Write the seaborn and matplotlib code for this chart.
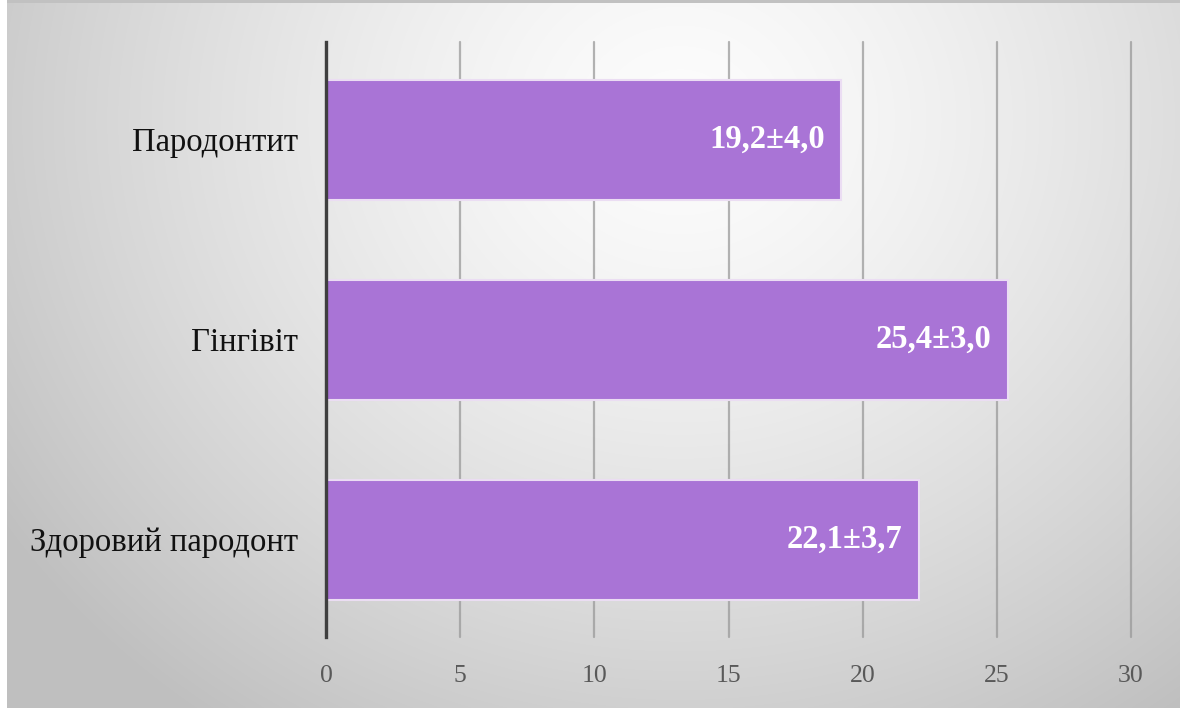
import numpy as np
import pandas as pd
import matplotlib
matplotlib.use("Agg")
import matplotlib.pyplot as plt
import seaborn as sns

# Data
categories = ["Пародонтит", "Гінгівіт", "Здоровий пародонт"]
means = [19.2, 25.4, 22.1]
sds = [4.0, 3.0, 3.7]
x_ticks = [0, 5, 10, 15, 20, 25, 30]

df = pd.DataFrame({"group": categories, "mean": means, "sd": sds})
labels = [f"{m:.1f}±{s:.1f}".replace(".", ",") for m, s in zip(means, sds)]

sns.set_theme(style="white")
plt.rcParams["font.family"] = ["Liberation Serif", "DejaVu Serif"]

W, H = 1180, 708
fig = plt.figure(figsize=(W / 100, H / 100), dpi=100)

# Radial grey gradient background
bg = fig.add_axes([0, 0, 1, 1], zorder=0)
yy, xx = np.mgrid[0:H, 0:W]
d = np.hypot(xx - 680, (yy - 120) * 1.1)
shade = 0.99 - 0.21 * np.clip(d / 740, 0, 1.3) ** 1.4
shade = np.clip(shade, 0.75, 1.0)
img = np.dstack([shade] * 3)
img[:, :7, :] = 1.0          # thin white strip on the left
img[:3, 7:, :] = 0.76        # top border line
bg.imshow(img, aspect="auto", extent=[0, W, H, 0], interpolation="bilinear")
bg.set_axis_off()

# Main plot axes
left, right, top, bottom = 326, 1131, 42, 637
ax = fig.add_axes([left / W, (H - bottom) / H, (right - left) / W, (bottom - top) / H], zorder=1)
ax.patch.set_alpha(0)

sns.barplot(data=df, x="mean", y="group", orient="h", color="#A974D6",
            saturation=1, width=0.6, edgecolor="#EBDDF3", linewidth=1.5,
            ax=ax, zorder=3)

ax.set_xlim(0, 30)
ax.set_ylim(2.4875, -0.4875)
ax.set_xticks(x_ticks)
ax.set_xticklabels([str(t) for t in x_ticks])
ax.xaxis.grid(True, color="#9a9a9a", linewidth=1.6, alpha=0.75, zorder=0)
for gl in ax.get_xgridlines():
    gl.set_clip_on(False)
ax.yaxis.grid(False)
ax.set_axisbelow(True)
for s in ["top", "right", "bottom"]:
    ax.spines[s].set_visible(False)
ax.spines["left"].set_color("#3f3f3f")
ax.spines["left"].set_linewidth(2.4)
ax.spines["left"].set_zorder(5)

ax.tick_params(axis="x", length=0, pad=20, labelsize=18.5, labelcolor="#595959")
ax.tick_params(axis="y", length=0, pad=20, labelsize=23.5, labelcolor="#111111")
ax.set_xlabel("")
ax.set_ylabel("")

# Value labels inside the bar ends
for i, (m, lab) in enumerate(zip(means, labels)):
    ax.annotate(lab, xy=(m, i), xytext=(-12, 0), textcoords="offset points",
                ha="right", va="center", color="white", fontsize=23.5,
                fontweight="bold", zorder=6)

fig.savefig("out.png", dpi=100)
